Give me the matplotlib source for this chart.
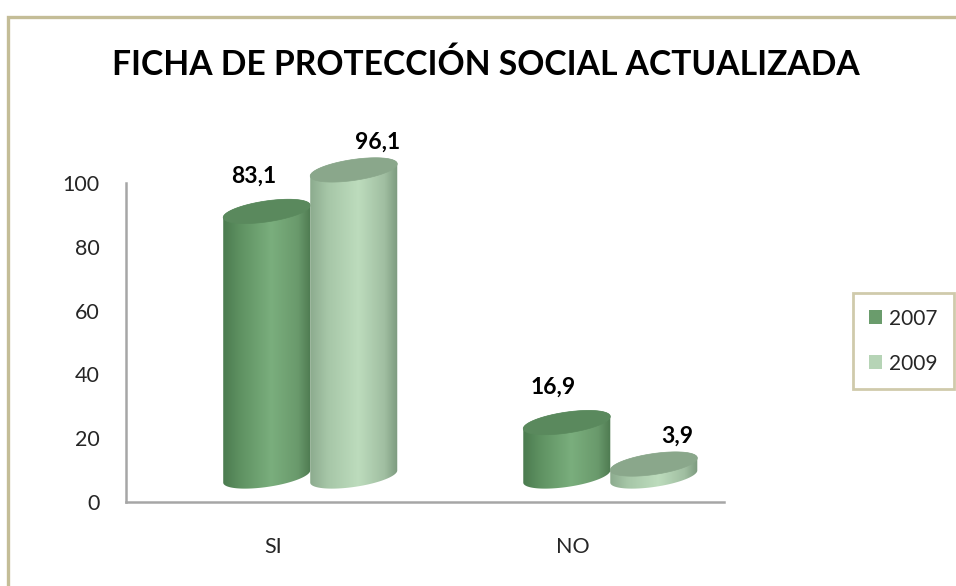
import numpy as np
import matplotlib
matplotlib.use("Agg")
import matplotlib.pyplot as plt
from matplotlib.patches import Polygon, Patch
from matplotlib.colors import LinearSegmentedColormap
from matplotlib.lines import Line2D

# ---------------- data ----------------
categories = ["SI", "NO"]
series_names = ["2007", "2009"]
values_2007 = [83.1, 16.9]
values_2009 = [96.1, 3.9]
value_labels_2007 = ["83,1", "16,9"]
value_labels_2009 = ["96,1", "3,9"]
y_ticks = [0, 20, 40, 60, 80, 100]
title = "FICHA DE PROTECCIÓN SOCIAL ACTUALIZADA"

# ---------------- style ----------------
W, H = 956, 586
FONT = ["Lato", "DejaVu Sans"]
plt.rcParams["font.family"] = FONT
border_col = "#c4bd97"
axis_col = "#a6a6a6"
text_col = "#262626"

body_cmaps = {
    "2007": LinearSegmentedColormap.from_list(
        "c07", [(0, "#4b7b4f"), (0.2, "#5f9262"), (0.55, "#7aae7d"), (0.85, "#6a9a6c"), (1, "#4e7a51")]),
    "2009": LinearSegmentedColormap.from_list(
        "c09", [(0, "#8cab8e"), (0.2, "#a6c6a7"), (0.55, "#bddcbd"), (0.85, "#a0bea1"), (1, "#7c9a7e")]),
}
top_cols = {"2007": "#5a895d", "2009": "#8aa78b"}
legend_cols = {"2007": "#6a9c6c", "2009": "#b6d4b6"}

bar_w = 0.29          # cylinder width (data x units)
depth_shift = 0.124   # 3D depth shift to the right
base = 8.0            # 3D depth offset of the floor (data y units)
ell_b = 3.3           # vertical semi-axis of ellipses (data y units)
ell_s = 1.9           # tilt of ellipses (data y units)
label_offsets = {"2007": (-9.5, 9), "2009": (17, 4)}  # points

fig = plt.figure(figsize=(W / 100, H / 100), dpi=100)
fig.patch.set_facecolor("white")

# outer frame (top and left edges visible)
fig.add_artist(Line2D([7.5 / W, 7.5 / W, 1.0], [0.0, 1 - 17 / H, 1 - 17 / H],
                      transform=fig.transFigure, color=border_col, lw=2.4,
                      solid_joinstyle="miter"))

ax = fig.add_axes([126 / W, (H - 502) / H, (724 - 126) / W, (502 - 183) / H])
ax.set_facecolor("none")


def cylinder(ax, xc, h, cmap, top_color, z):
    a = bar_w / 2
    t = np.linspace(0, 2 * np.pi, 240)
    top = base + h

    def ey(tt, yc):
        return yc + ell_b * np.sin(tt) + ell_s * np.cos(tt)

    t_low = np.linspace(np.pi, 2 * np.pi, 120)
    t_up = np.linspace(0, np.pi, 120)
    xs = np.concatenate([xc + a * np.cos(t_low), xc + a * np.cos(t_up)])
    ys = np.concatenate([ey(t_low, base), ey(t_up, top)])
    body = Polygon(np.column_stack([xs, ys]), closed=True, facecolor="none",
                   edgecolor="none", zorder=z, clip_on=False)
    ax.add_patch(body)
    grad = np.linspace(0, 1, 256).reshape(1, -1)
    im = ax.imshow(grad, cmap=cmap, aspect="auto", interpolation="bilinear",
                   extent=[xc - a, xc + a, base - ell_b - ell_s - 1, top + ell_b + ell_s + 1],
                   zorder=z)
    im.set_clip_box(fig.bbox)
    im.set_clip_path(body)
    topell = Polygon(np.column_stack([xc + a * np.cos(t), ey(t, top)]), closed=True,
                     facecolor=top_color, edgecolor=top_color, lw=0.5, zorder=z + 0.1,
                     clip_on=False)
    ax.add_patch(topell)
    return top + np.hypot(ell_b, ell_s)


x = np.arange(len(categories))
series = [("2007", values_2007, value_labels_2007, -1),
          ("2009", values_2009, value_labels_2009, 1)]
for i, cat in enumerate(categories):
    for name, vals, labs, sgn in series:
        xc = x[i] + depth_shift + sgn * bar_w / 2
        z = 2 + i + (0.5 if name == "2009" else 0)
        ytop = cylinder(ax, xc, vals[i], body_cmaps[name], top_cols[name], z)
        dx, dy = label_offsets[name]
        ax.annotate(labs[i], (xc, ytop), xytext=(dx, dy), textcoords="offset points",
                    ha="center", va="bottom", fontsize=16.5, fontweight="bold",
                    color="black", zorder=10, annotation_clip=False)

ax.set_xlim(-0.49, 1.503)
ax.set_ylim(0, 100)
ax.set_yticks(y_ticks)
ax.set_yticklabels([str(v) for v in y_ticks])
ax.set_xticks(x)
ax.set_xticklabels(categories)
ax.tick_params(axis="both", length=0, labelsize=15.5, colors=text_col)
ax.tick_params(axis="y", pad=19)
ax.tick_params(axis="x", pad=25)
for sp in ["top", "right"]:
    ax.spines[sp].set_visible(False)
for sp in ["left", "bottom"]:
    ax.spines[sp].set_color(axis_col)
    ax.spines[sp].set_linewidth(1.8)
    ax.spines[sp].set_zorder(1)

fig.text(485.5 / W, 1 - 65 / H, title, ha="center", va="center",
         fontsize=24.2, fontweight="bold", color="black")

handles = [Patch(facecolor=legend_cols[n], edgecolor="none") for n in series_names]
leg = fig.legend(handles, series_names, loc="upper left",
                 bbox_to_anchor=(853 / W, 1 - 293 / H), borderaxespad=0,
                 fontsize=15, frameon=True, fancybox=False,
                 handlelength=0.65, handleheight=0.65, handletextpad=0.35,
                 labelspacing=1.2, borderpad=0.75)
leg.get_frame().set_edgecolor(border_col)
leg.get_frame().set_linewidth(2)
for txt in leg.get_texts():
    txt.set_color(text_col)

fig.savefig("out.png", dpi=100, facecolor="white")
